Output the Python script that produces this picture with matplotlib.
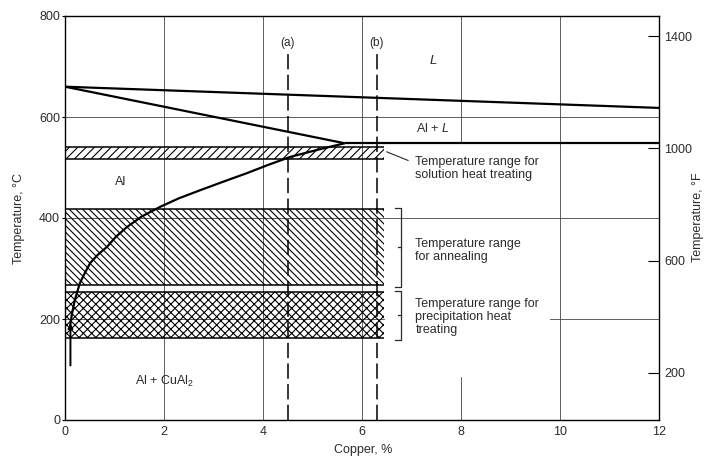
import matplotlib
matplotlib.use("Agg")
import matplotlib.pyplot as plt

plt.rcParams["font.family"] = ["Liberation Sans", "DejaVu Sans"]
plt.rcParams["mathtext.fontset"] = "custom"
plt.rcParams["mathtext.rm"] = "Liberation Sans"
plt.rcParams["mathtext.it"] = "Liberation Sans:italic"
plt.rcParams["hatch.linewidth"] = 0.8

TEXT = "#2b2b2b"

# Phase boundaries of the Al-rich end of the Al-Cu system (wt% Cu, deg C)
liquidus_cu = [0.0, 12.0]
liquidus_t = [660, 618]
solidus_cu = [0.0, 5.65]
solidus_t = [660, 548]
eutectic_cu = [5.65, 12.0]
eutectic_t = [548, 548]
solvus_cu = [5.65, 5.1, 4.55, 4.1, 3.68, 3.2, 2.73, 2.3, 1.92, 1.55, 1.25,
             1.03, 0.85, 0.66, 0.51, 0.40, 0.30, 0.20, 0.14, 0.10]
solvus_t = [548, 535, 521, 505, 489, 472, 455, 439, 422, 403, 382,
            363, 343, 327, 311, 291, 271, 238, 210, 184]

# Heat-treatment temperature ranges
band_names = ["solution", "annealing", "precipitation"]
band_low = [516, 268, 162]
band_high = [540, 418, 254]
band_hatch = ["////", "\\\\\\\\\\", "xxxx"]
band_labels = ["Temperature range for\nsolution heat treating",
               "Temperature range\nfor annealing",
               "Temperature range for\nprecipitation heat\ntreating"]
band_cu_max = 6.45

# Example alloys
alloy_cu = [4.5, 6.3]
alloy_names = ["(a)", "(b)"]

c_ticks = [0, 200, 400, 600, 800]
f_ticks = [200, 600, 1000, 1400]
cu_ticks = [0, 2, 4, 6, 8, 10, 12]

fig = plt.figure(figsize=(7.07, 4.57), dpi=100)
ax = fig.add_axes([65 / 707, 37 / 457, 594 / 707, 404 / 457])
ax.set_xlim(0, 12)
ax.set_ylim(0, 800)

# light reference grid
gkw = dict(color="#444444", lw=0.6, zorder=1)
for x in [2, 4, 6, 10]:
    ax.axvline(x, **gkw)
ax.plot([8, 8], [548, 800], **gkw)
ax.plot([8, 8], [0, 85], **gkw)
ax.axhline(600, **gkw)
ax.axhline(400, **gkw)
ax.plot([0, band_cu_max], [200, 200], **gkw)
ax.plot([9.8, 12], [200, 200], **gkw)

# heat-treatment bands
for lo, hi, h in zip(band_low, band_high, band_hatch):
    ax.fill_between([0, band_cu_max], lo, hi, facecolor="none",
                    edgecolor="black", hatch=h, linewidth=0, zorder=2)
    ax.hlines([lo, hi], 0, band_cu_max, color="black", lw=1.1, zorder=3)

# phase boundaries
lkw = dict(color="black", lw=1.6, zorder=4, solid_capstyle="butt")
ax.plot(liquidus_cu, liquidus_t, **lkw)
ax.plot(solidus_cu, solidus_t, **lkw)
ax.plot(eutectic_cu, eutectic_t, **lkw)
ax.plot(solvus_cu, solvus_t, **lkw)
ax.annotate("", xy=(solvus_cu[-1] + 0.01, 192), xytext=(solvus_cu[-1] + 0.01, 108),
            arrowprops=dict(arrowstyle="-|>", color="black", lw=1.4,
                            mutation_scale=7, shrinkA=0, shrinkB=0), zorder=4)

# alloy compositions
for x, name in zip(alloy_cu, alloy_names):
    ax.plot([x, x], [0, 724], color="black", lw=1.1,
            linestyle=(0, (10, 3.5)), zorder=4)
    ax.text(x, 746, name, ha="center", va="center", fontsize=8.5, color=TEXT)

# brackets and labels for the ranges
bx = 6.78
ax.plot([6.5, 6.93], [531, 514], color=TEXT, lw=0.8, zorder=4)
for lo, hi in zip(band_low[1:], band_high[1:]):
    lo2, hi2 = lo - 4, hi + 2
    ax.plot([bx - 0.12, bx, bx, bx - 0.12], [hi2, hi2, lo2, lo2],
            color=TEXT, lw=0.9, zorder=4)
    mid = (lo2 + hi2) / 2
    ax.plot([bx, bx - 0.06], [mid, mid], color=TEXT, lw=0.9, zorder=4)

label_y = [522, 361, 242]
for text, y in zip(band_labels, label_y):
    ax.text(7.08, y, text, ha="left", va="top", fontsize=9, color=TEXT,
            linespacing=1.12, zorder=5)

# phase field labels
ax.text(7.43, 712, r"$\mathit{L}$", ha="center", va="center", fontsize=9.5, color=TEXT)
ax.text(7.43, 577, r"Al + $\mathit{L}$", ha="center", va="center", fontsize=9, color=TEXT)
ax.text(1.12, 471, "Al", ha="center", va="center", fontsize=9, color=TEXT)
ax.text(2.0, 76, r"Al + CuAl$_2$", ha="center", va="center", fontsize=9, color=TEXT)

# axes styling
for s in ax.spines.values():
    s.set_linewidth(1.0)
    s.set_color("black")
ax.set_xticks(cu_ticks)
ax.set_yticks(c_ticks)
ax.tick_params(axis="y", direction="out", length=2.5, width=0.8, pad=1,
               labelsize=9, labelcolor=TEXT)
ax.tick_params(axis="x", length=0, pad=4, labelsize=9, labelcolor=TEXT)

axf = ax.twinx()
axf.set_ylim(0 * 9 / 5 + 32, 800 * 9 / 5 + 32)
axf.set_yticks(f_ticks)
axf.tick_params(axis="y", direction="in", length=8, width=0.8, pad=4,
                labelsize=9, labelcolor=TEXT)
for s in axf.spines.values():
    s.set_visible(False)

fig.text(19 / 707, 1 - 218 / 457, "Temperature, °C", rotation=90,
         ha="center", va="center", fontsize=9, color=TEXT)
fig.text(698 / 707, 1 - 217 / 457, "Temperature, °F", rotation=90,
         ha="center", va="center", fontsize=9, color=TEXT)
fig.text(363 / 707, 1 - 450 / 457, "Copper, %", ha="center", va="center",
         fontsize=9, color=TEXT)

fig.savefig("out.png", dpi=100)
